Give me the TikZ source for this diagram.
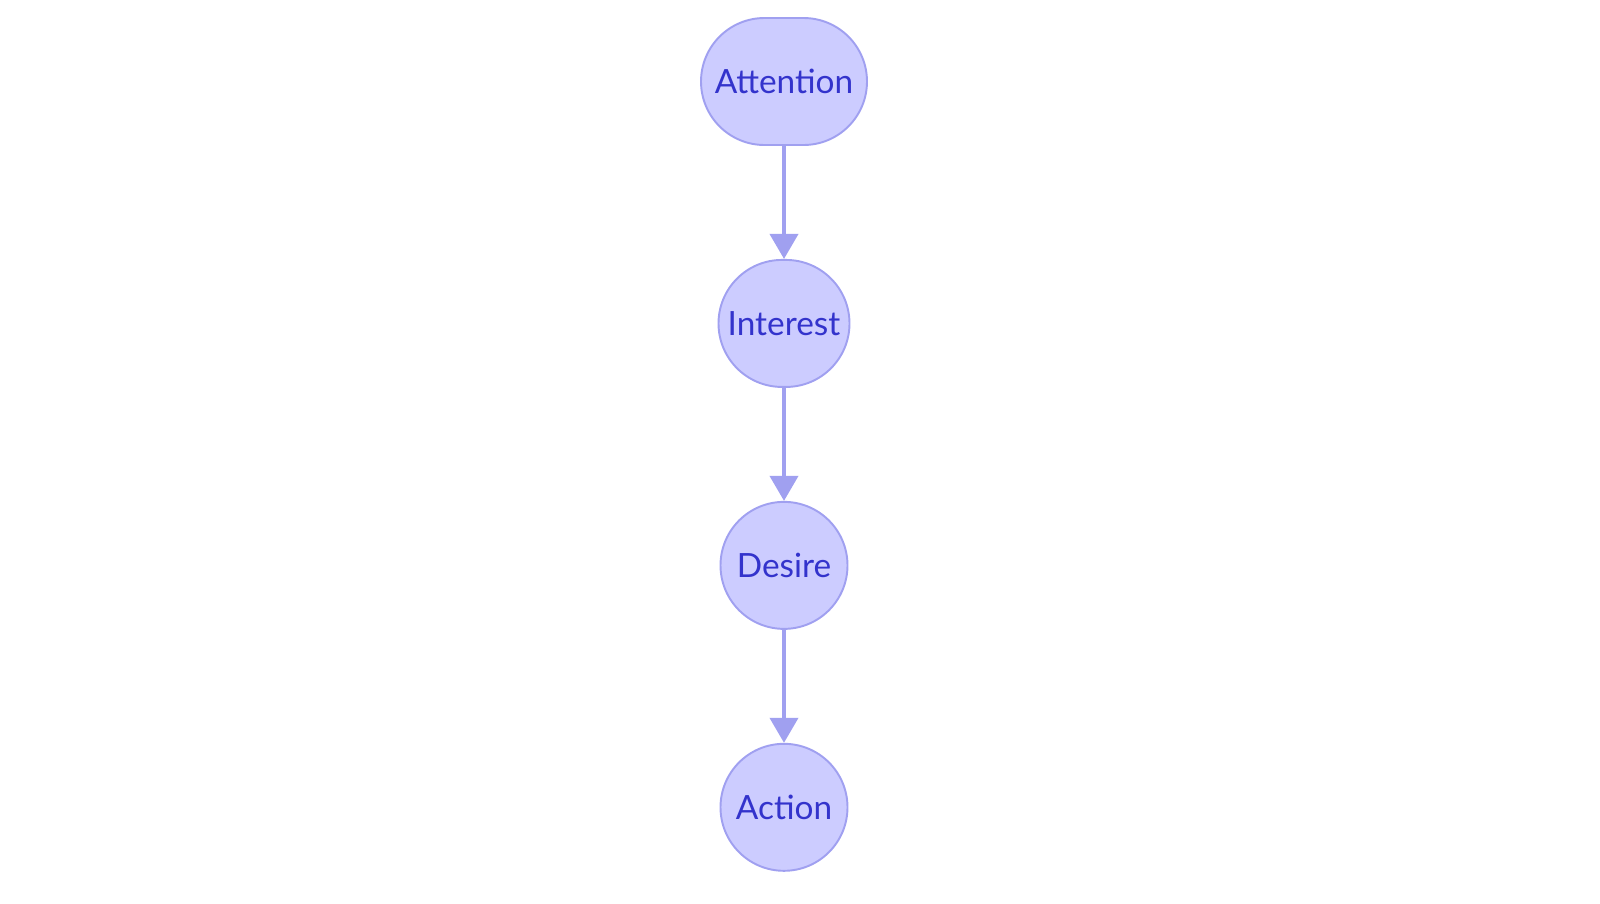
\documentclass[tikz,border=0pt]{standalone}
\usepackage{fontspec}
\setmainfont{Lato}
\usetikzlibrary{positioning,shapes.misc,arrows.meta}
\definecolor{stepfill}{HTML}{CCCCFF}
\definecolor{stepline}{HTML}{A0A0F0}
\definecolor{steptext}{HTML}{3333CC}
\begin{document}
\begin{tikzpicture}[
    stage/.style={rounded rectangle, draw=stepline, fill=stepfill, line width=1.1pt,
        text=steptext, font=\fontsize{19}{22}\selectfont, minimum height=2.54cm},
    flow/.style={draw=stepline, line width=2.2pt, -{Triangle[width=0.56cm,length=0.5cm]}},
    node distance=2.26cm
]
    \useasboundingbox (0,0) rectangle (32,-18.06);
    \node[stage, minimum width=4.52cm, inner xsep=0.6cm] (attention) at (15.68,-1.63) {Attention};
    \node[stage, minimum width=4.12cm, inner xsep=0.75cm, below=of attention] (interest) {Interest};
    \node[stage, minimum width=3.6cm, inner xsep=0.75cm, below=of interest] (desire) {Desire};
    \node[stage, minimum width=3.72cm, inner xsep=0.75cm, below=of desire] (action) {Action};
    \draw[flow] (attention) -- (interest);
    \draw[flow] (interest) -- (desire);
    \draw[flow] (desire) -- (action);
\end{tikzpicture}
\end{document}
